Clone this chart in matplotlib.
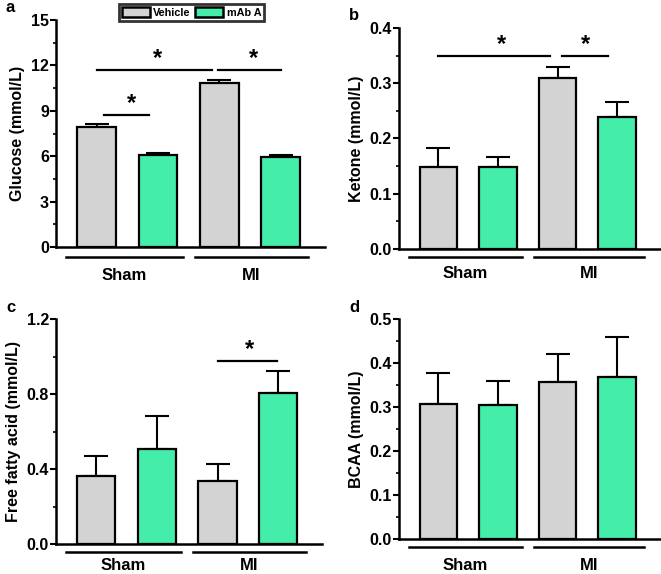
import numpy as np
import matplotlib
matplotlib.use('Agg')
import matplotlib.pyplot as plt
import matplotlib.transforms as mtransforms
from matplotlib.patches import Patch
from matplotlib.ticker import MultipleLocator

plt.rcParams['font.family'] = ['Liberation Sans', 'DejaVu Sans']
plt.rcParams['font.weight'] = 'bold'

treatments = ['Vehicle', 'mAb A']
groups = ['Sham', 'MI']
colors = ['#d3d3d3', '#44eeaa']

# values per bar: Vehicle-Sham, mAb-Sham, Vehicle-MI, mAb-MI
glucose = [7.95, 6.1, 10.85, 5.95]
glucose_err = [0.15, 0.12, 0.18, 0.1]
ketone = [0.148, 0.148, 0.309, 0.239]
ketone_err = [0.035, 0.019, 0.020, 0.027]
ffa = [0.365, 0.505, 0.335, 0.805]
ffa_err = [0.105, 0.18, 0.09, 0.12]
bcaa = [0.307, 0.305, 0.357, 0.368]
bcaa_err = [0.070, 0.053, 0.064, 0.092]

# (letter, values, errors, ylabel, ymax, major, minor, rect px, sig bars, line/text offsets px)
panels = [
    ('a', glucose, glucose_err, 'Glucose (mmol/L)', 15, 3, 1.5,
     [56, 20, 325, 247],
     [(0.0, 1.88, 11.7, 1.0), (1.98, 3.0, 11.7, 2.55), (0.12, 0.85, 8.7, 0.57)],
     (-10, -33)),
    ('b', ketone, ketone_err, 'Ketone (mmol/L)', 0.4, 0.1, 0.05,
     [399, 28, 660, 249],
     [(0.0, 1.88, 0.35, 1.06), (2.07, 2.84, 0.35, 2.47)],
     (-8, -29)),
    ('c', ffa, ffa_err, 'Free fatty acid (mmol/L)', 1.2, 0.4, 0.2,
     [56, 319, 322, 544],
     [(2.0, 2.98, 0.976, 2.53)],
     (-8, -26)),
    ('d', bcaa, bcaa_err, 'BCAA (mmol/L)', 0.5, 0.1, 0.05,
     [399, 319, 660, 539],
     [],
     (-8, -31)),
]

W, H = 661, 574
fig = plt.figure(figsize=(W / 100, H / 100), dpi=100)

x = np.arange(4)
bar_colors = [colors[0], colors[1], colors[0], colors[1]]
fmt = {'a': '%d', 'b': '%.1f', 'c': '%.1f', 'd': '%.1f'}

for letter, vals, errs, ylabel, ymax, major, minor, (l, t, r, b), sigs, (ly, ty) in panels:
    ax = fig.add_axes([l / W, 1 - b / H, (r - l) / W, (b - t) / H])
    ax.bar(x, vals, width=0.63, color=bar_colors, edgecolor='black', linewidth=1.6, zorder=2)
    ax.errorbar(x, vals, yerr=[np.zeros(4), errs], fmt='none', ecolor='black',
                elinewidth=1.5, capsize=8.5, capthick=1.5, zorder=1)
    ax.set_xlim(-0.66, 3.72)
    ax.set_ylim(0, ymax)
    ax.yaxis.set_major_locator(MultipleLocator(major))
    ax.yaxis.set_minor_locator(MultipleLocator(minor))
    ax.yaxis.set_major_formatter(matplotlib.ticker.FormatStrFormatter(fmt[letter]))
    ax.set_xticks([])
    for s in ['top', 'right']:
        ax.spines[s].set_visible(False)
    for s in ['left', 'bottom']:
        ax.spines[s].set_linewidth(1.8)
    ax.tick_params(axis='y', which='major', length=4, width=1.5, labelsize=11.5, pad=1)
    ax.tick_params(axis='y', which='minor', length=2, width=1.2)
    for lab in ax.get_yticklabels():
        lab.set_fontweight('bold')
    ax.set_ylabel(ylabel, fontsize=11.5, fontweight='bold', labelpad=4)

    # group underlines and labels
    trans = mtransforms.blended_transform_factory(ax.transData, ax.transAxes)
    line_tr = mtransforms.offset_copy(trans, fig=fig, x=0, y=ly, units='dots')
    text_tr = mtransforms.offset_copy(trans, fig=fig, x=0, y=ty, units='dots')
    for (x0, x1), g in zip([(-0.5, 1.4), (1.6, 3.45)], groups):
        ax.plot([x0, x1], [0, 0], color='black', lw=1.8, transform=line_tr, clip_on=False)
        ax.text((x0 + x1) / 2, 0, g, transform=text_tr, ha='center', va='baseline',
                fontsize=12, fontweight='bold')

    for x0, x1, y, xs in sigs:
        ax.plot([x0, x1], [y, y], color='black', lw=1.6, clip_on=False)
        ax.text(xs, y, '*', ha='center', va='bottom', fontsize=17, fontweight='bold')

    fig.text((l - 50) / W, 1 - (t - 12) / H, letter, fontsize=12, fontweight='bold',
             ha='left', va='center')

handles = [Patch(facecolor=c, edgecolor='black', linewidth=1.8) for c in colors]
leg = fig.legend(handles, treatments, loc='center', bbox_to_anchor=(191.5 / W, 1 - 12.5 / H),
                 ncol=2, fontsize=7.8, frameon=True, fancybox=False, edgecolor='black',
                 handlelength=2.6, handleheight=1.1, handletextpad=0.3, columnspacing=0.4,
                 borderpad=0.3, borderaxespad=0)
leg.get_frame().set_linewidth(2)
for txt in leg.get_texts():
    txt.set_fontweight('bold')

fig.savefig('out.png', dpi=100)
